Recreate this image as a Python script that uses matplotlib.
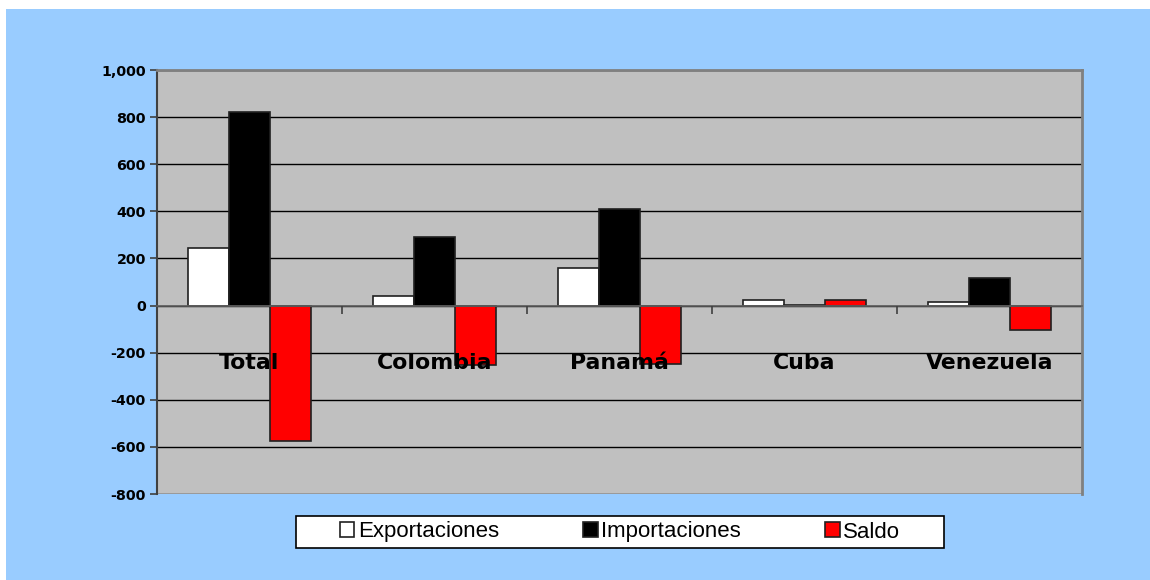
import matplotlib
matplotlib.use("Agg")
import matplotlib.pyplot as plt
import numpy as np
from matplotlib.patches import Rectangle

categories = ["Total", "Colombia", "Panamá", "Cuba", "Venezuela"]
exportaciones = [243, 39, 161, 25, 15]
importaciones = [820, 290, 411, 2, 117]
saldo = [-577, -251, -250, 22, -103]
series_names = ["Exportaciones", "Importaciones", "Saldo"]
series_colors = ["#FFFFFF", "#000000", "#FF0000"]
yticks = [-800, -600, -400, -200, 0, 200, 400, 600, 800, 1000]

plt.rcParams['font.family'] = ['Liberation Sans', 'DejaVu Sans']

W, H = 1150, 580
fig = plt.figure(figsize=(W / 100, H / 100), dpi=100)
fig.patch.set_facecolor("#99CCFF")
# white strips on the left and top edges
fig.patches.append(Rectangle((0, 0), 6 / W, 1, transform=fig.transFigure,
                             facecolor="white", edgecolor="none", zorder=-10))
fig.patches.append(Rectangle((0, 1 - 9 / H), 1, 9 / H, transform=fig.transFigure,
                             facecolor="white", edgecolor="none", zorder=-10))
# legend box
LX0, LX1, LY0, LY1 = 296, 944, 516, 548
fig.patches.append(Rectangle((LX0 / W, 1 - LY1 / H), (LX1 - LX0) / W, (LY1 - LY0) / H,
                             transform=fig.transFigure, facecolor="white",
                             edgecolor="black", linewidth=1.2, zorder=-5))

L, R, T, B = 157, 1082, 70, 494
ax = fig.add_axes([L / W, 1 - B / H, (R - L) / W, (B - T) / H])
ax.set_facecolor("#C0C0C0")

n = len(categories)
x = np.arange(n)
bw = 0.222
data = [exportaciones, importaciones, saldo]
for i, (vals, col, name) in enumerate(zip(data, series_colors, series_names)):
    ax.bar(x + (i - 1) * bw, vals, width=bw, color=col, edgecolor="#202020",
           linewidth=1.2, label=name, zorder=3)

ax.set_xlim(-0.5, n - 0.5)
ax.set_ylim(-800, 1000)
ax.set_yticks(yticks)
ax.set_yticklabels([f"{v:,}" for v in yticks], fontsize=10.3, fontweight="bold",
                   family=["DejaVu Sans"])
ax.yaxis.grid(True, color="black", linewidth=1.0)
ax.yaxis.set_zorder(1)
ax.tick_params(axis="y", length=5, width=1.2, color="#404040", pad=3)

# x axis at zero, labels drawn above bars
ax.xaxis.set_zorder(5)
ax.spines['bottom'].set_position(('data', 0))
ax.spines['bottom'].set_color("#606060")
ax.spines['bottom'].set_linewidth(1.2)
ax.spines['bottom'].set_zorder(4)
ax.set_xticks(x)
ax.set_xticklabels(categories, fontsize=15.8, fontweight="bold", family=["DejaVu Sans"])
ax.tick_params(axis="x", which="major", length=0, pad=34)
ax.set_xticks(np.arange(0.5, n - 0.5, 1), minor=True)
ax.tick_params(axis="x", which="minor", length=6, width=1.2, color="#404040", direction="out")

ax.spines['left'].set_color("#404040")
ax.spines['left'].set_linewidth(1.5)
for s in ['top', 'right']:
    ax.spines[s].set_color("#808080")
    ax.spines[s].set_linewidth(2)

leg = fig.legend(loc="center", bbox_to_anchor=((LX0 + LX1) / 2 / W, 1 - (LY0 + LY1) / 2 / H),
                 ncol=3, frameon=False, fontsize=16,
                 handlelength=0.65, handleheight=0.65, handletextpad=0.15,
                 columnspacing=3.8, borderpad=0.2)

fig.savefig("out.png", dpi=100, facecolor=fig.get_facecolor())
